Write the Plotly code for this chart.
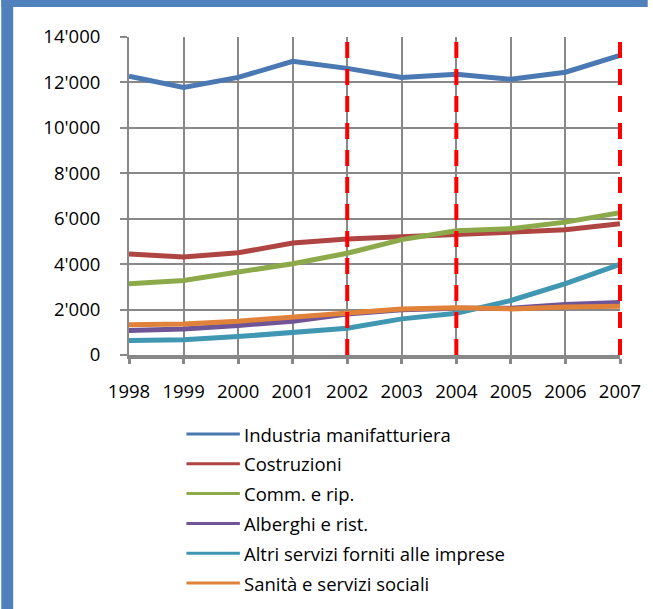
import plotly.graph_objects as go

# Occupati per settore, 1998-2007
years = [1998, 1999, 2000, 2001, 2002, 2003, 2004, 2005, 2006, 2007]

industria = [12270, 11780, 12220, 12930, 12620, 12220, 12360, 12140, 12450, 13190]
costruzioni = [4450, 4310, 4500, 4930, 5110, 5220, 5340, 5410, 5510, 5780]
commercio = [3140, 3280, 3650, 4020, 4480, 5080, 5470, 5560, 5850, 6260]
alberghi = [1080, 1150, 1300, 1490, 1800, 1990, 2060, 2060, 2220, 2310]
altri_servizi = [640, 670, 810, 1000, 1180, 1590, 1840, 2400, 3140, 3990]
sanita = [1330, 1370, 1490, 1670, 1860, 2030, 2080, 2030, 2110, 2150]

series_names = [
    "Industria manifatturiera",
    "Costruzioni",
    "Comm. e rip.",
    "Alberghi e rist.",
    "Altri servizi forniti alle imprese",
    "Sanità e servizi sociali",
]
series_values = [industria, costruzioni, commercio, alberghi, altri_servizi, sanita]
series_colors = ["#4A78B2", "#AE4542", "#8DAA4B", "#6F5596", "#3F97B1", "#E0823A"]

y_tickvals = [0, 2000, 4000, 6000, 8000, 10000, 12000, 14000]
y_ticktext = ["0", "2'000", "4'000", "6'000", "8'000", "10'000", "12'000", "14'000"]

# anni evidenziati con linea tratteggiata
marked_years = [2002, 2004, 2007]

W, H = 653, 609
L, R, T, B = 129, 28, 37, 254
plot_w = W - L - R
plot_h = H - T - B
x_min, x_max = years[0], years[-1]

FONT = "Open Sans"
FSIZE = 18.5
GRID = "#888888"

fig = go.Figure()

for name, vals, col in zip(series_names, series_values, series_colors):
    fig.add_trace(go.Scatter(
        x=years, y=vals, name=name, mode="lines",
        line=dict(color=col, width=5),
        showlegend=False,
    ))

# dashed markers, placed on the x scale but not clipped at the plot edge
for yr in marked_years:
    xp = (yr - x_min) / (x_max - x_min)
    fig.add_shape(type="line", xref="paper", yref="paper",
                  x0=xp, x1=xp, y0=0, y1=1,
                  line=dict(color="#FF0000", width=4, dash="16px,11px"),
                  layer="above")


def px_x(px):
    return (px - L) / plot_w


def px_y(py):
    return (H - B - py) / plot_h


# legend drawn as line samples with labels
leg_top = 434
leg_step = 29.8
for i, (name, col) in enumerate(zip(series_names, series_colors)):
    yy = px_y(leg_top + i * leg_step)
    fig.add_shape(type="line", xref="paper", yref="paper",
                  x0=px_x(187), x1=px_x(241), y0=yy, y1=yy,
                  line=dict(color=col, width=3))
    fig.add_annotation(xref="paper", yref="paper", x=px_x(243), y=yy,
                       text=name, showarrow=False, xanchor="left",
                       yanchor="middle",
                       font=dict(family=FONT, size=FSIZE, color="#000000"))

# blue frame along the top and left edges
fig.add_shape(type="rect", xref="paper", yref="paper",
              x0=px_x(0), x1=px_x(W), y0=px_y(0), y1=px_y(7),
              fillcolor="#4F81BD", line=dict(width=0), layer="below")
fig.add_shape(type="rect", xref="paper", yref="paper",
              x0=px_x(0), x1=px_x(12), y0=px_y(H), y1=px_y(0),
              fillcolor="#4F81BD", line=dict(width=0), layer="below")

fig.update_xaxes(
    range=[x_min, x_max], tickmode="array", tickvals=years,
    ticktext=[str(y) for y in years],
    showgrid=True, gridcolor=GRID, gridwidth=2,
    showline=True, linecolor=GRID, linewidth=4,
    ticks="outside", ticklen=5, tickwidth=3, tickcolor=GRID,
    zeroline=False,
    tickfont=dict(family=FONT, size=FSIZE, color="#000000"),
    ticklabelstandoff=12,
)
fig.update_yaxes(
    range=[0, 14000], tickmode="array", tickvals=y_tickvals,
    ticktext=y_ticktext,
    showgrid=True, gridcolor=GRID, gridwidth=2,
    showline=True, linecolor=GRID, linewidth=2,
    ticks="outside", ticklen=7, tickwidth=2, tickcolor=GRID,
    zeroline=False,
    tickfont=dict(family=FONT, size=FSIZE, color="#000000"),
    ticklabelstandoff=16,
)

fig.update_layout(
    width=W, height=H,
    margin=dict(l=L, r=R, t=T, b=B, pad=0),
    paper_bgcolor="#FFFFFF", plot_bgcolor="#FFFFFF",
    showlegend=False,
)

fig.write_html("out.html")
